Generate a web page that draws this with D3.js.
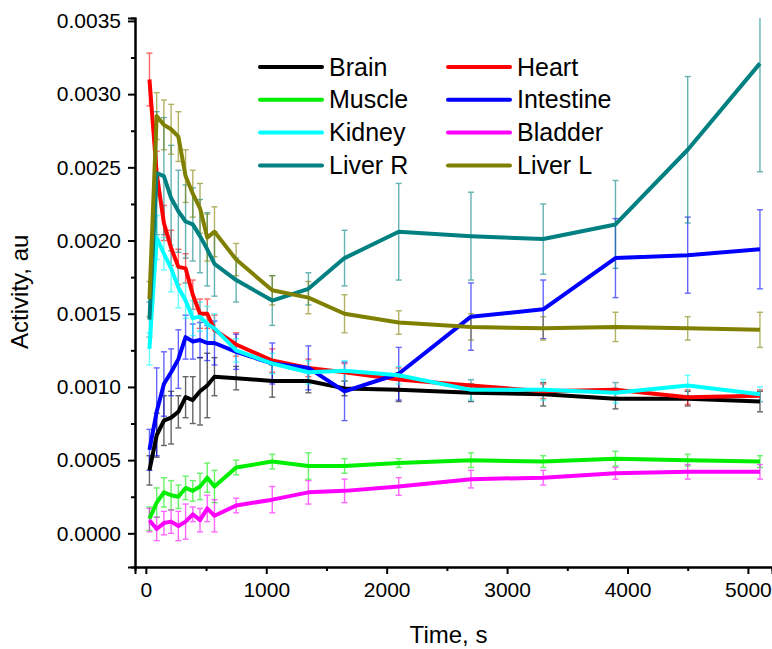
<!DOCTYPE html>
<html>
<head>
<meta charset="utf-8">
<script src="https://cdn.jsdelivr.net/npm/d3@7"></script>
<style>
  body { margin: 0; background: #fff; }
  svg { font-family: "Liberation Sans", Arial, sans-serif; }
</style>
</head>
<body>
<div id="chart"></div>
<script>
// Sampling times, s
var times = [30, 90, 150, 210, 270, 330, 390, 450, 510, 570, 750, 1050, 1350, 1650, 2100, 2700, 3300, 3900, 4500, 5100];

// Mean activity per organ
var brain     = [0.00043, 0.00067, 0.00077, 0.00079, 0.00083, 0.00093, 0.00091, 0.00097, 0.00101, 0.00107, 0.00106, 0.00104, 0.00104, 0.00099, 0.00098, 0.00096, 0.00095, 0.00092, 0.00092, 0.00090];
var heart     = [0.00310, 0.00246, 0.00212, 0.00195, 0.00182, 0.00181, 0.00163, 0.00150, 0.00150, 0.00139, 0.00129, 0.00118, 0.00113, 0.00110, 0.00105, 0.00101, 0.00097, 0.00098, 0.00093, 0.00094];
var muscle    = [0.00010, 0.00021, 0.00028, 0.00026, 0.00025, 0.00031, 0.00029, 0.00032, 0.00038, 0.00032, 0.00045, 0.00049, 0.00046, 0.00046, 0.00048, 0.00050, 0.00049, 0.00051, 0.00050, 0.00049];
var intestine = [0.00057, 0.00083, 0.00102, 0.00110, 0.00119, 0.00134, 0.00131, 0.00132, 0.00130, 0.00130, 0.00124, 0.00116, 0.00113, 0.00097, 0.00109, 0.00148, 0.00153, 0.00188, 0.00190, 0.00194];
var kidney    = [0.00126, 0.00202, 0.00191, 0.00181, 0.00168, 0.00159, 0.00147, 0.00148, 0.00143, 0.00140, 0.00125, 0.00116, 0.00110, 0.00111, 0.00108, 0.00098, 0.00098, 0.00096, 0.00101, 0.00095];
var bladder   = [0.00009, 0.00003, 0.00007, 0.00008, 0.00005, 0.00008, 0.00013, 0.00009, 0.00017, 0.00012, 0.00019, 0.00023, 0.00028, 0.00029, 0.00032, 0.00037, 0.00038, 0.00041, 0.00042, 0.00042];
var liverR    = [0.00146, 0.00246, 0.00244, 0.00229, 0.00220, 0.00213, 0.00211, 0.00203, 0.00194, 0.00184, 0.00173, 0.00159, 0.00167, 0.00188, 0.00206, 0.00203, 0.00201, 0.00211, 0.00262, 0.00321];
var liverL    = [0.00160, 0.00285, 0.00279, 0.00276, 0.00271, 0.00244, 0.00232, 0.00222, 0.00202, 0.00206, 0.00187, 0.00166, 0.00161, 0.00150, 0.00144, 0.00141, 0.00140, 0.00141, 0.00140, 0.00139];

// Error bar half-lengths
var brainErr     = [0.00010, 0.00015, 0.00017, 0.00018, 0.00011, 0.00014, 0.00016, 0.00023, 0.00022, 0.00013, 0.00008, 0.00011, 0.00008, 0.00005, 0.00008, 0.00006, 0.00008, 0.00007, 0.00005, 0.00007];
var heartErr     = [0.00018, 0.00015, 0.00012, 0.00012, 0.00012, 0.00010, 0.00010, 0.00010, 0.00010, 0.00010, 0.00008, 0.00008, 0.00006, 0.00006, 0.00008, 0.00004, 0.00005, 0.00005, 0.00005, 0.00004];
var muscleErr    = [0.00008, 0.00010, 0.00010, 0.00010, 0.00008, 0.00008, 0.00007, 0.00009, 0.00010, 0.00011, 0.00005, 0.00005, 0.00009, 0.00005, 0.00003, 0.00005, 0.00004, 0.00005, 0.00004, 0.00004];
var intestineErr = [0.00014, 0.00030, 0.00022, 0.00016, 0.00020, 0.00015, 0.00012, 0.00012, 0.00012, 0.00015, 0.00012, 0.00014, 0.00015, 0.00020, 0.00018, 0.00023, 0.00020, 0.00027, 0.00026, 0.00027];
var kidneyErr    = [0.00011, 0.00015, 0.00011, 0.00016, 0.00014, 0.00012, 0.00012, 0.00010, 0.00012, 0.00010, 0.00008, 0.00007, 0.00008, 0.00007, 0.00006, 0.00007, 0.00007, 0.00007, 0.00007, 0.00005];
var bladderErr   = [0.00008, 0.00008, 0.00008, 0.00008, 0.00010, 0.00012, 0.00005, 0.00008, 0.00009, 0.00011, 0.00005, 0.00009, 0.00008, 0.00008, 0.00006, 0.00006, 0.00005, 0.00004, 0.00005, 0.00005];
var liverRErr    = [0.00012, 0.00042, 0.00040, 0.00036, 0.00028, 0.00025, 0.00025, 0.00025, 0.00025, 0.00022, 0.00015, 0.00017, 0.00011, 0.00019, 0.00033, 0.00030, 0.00024, 0.00030, 0.00050, 0.00074];
var liverLErr    = [0.00012, 0.00016, 0.00017, 0.00017, 0.00017, 0.00018, 0.00016, 0.00017, 0.00016, 0.00017, 0.00011, 0.00010, 0.00011, 0.00013, 0.00008, 0.00009, 0.00008, 0.00010, 0.00008, 0.00012];

var names  = ["Brain", "Heart", "Muscle", "Intestine", "Kidney", "Bladder", "Liver R", "Liver L"];
var colors = ["#000000", "#ff0000", "#00ee00", "#0000ff", "#00ffff", "#ff00ff", "#008080", "#808000"];
var means  = [brain, heart, muscle, intestine, kidney, bladder, liverR, liverL];
var errs   = [brainErr, heartErr, muscleErr, intestineErr, kidneyErr, bladderErr, liverRErr, liverLErr];

var yMajor = [0, 0.0005, 0.0010, 0.0015, 0.0020, 0.0025, 0.0030, 0.0035];
var yMinor = [0.00025, 0.00075, 0.00125, 0.00175, 0.00225, 0.00275, 0.00325];
var xMajor = [0, 1000, 2000, 3000, 4000, 5000];
var xMinor = [500, 1500, 2500, 3500, 4500];

var svgWidth = 772, svgHeight = 649;
var margin = { top: 18, right: 0, bottom: 82, left: 135 };
var plotW = svgWidth - margin.left - margin.right;
var plotH = svgHeight - margin.top - margin.bottom;

var svg = d3.select("#chart").append("svg")
  .attr("width", svgWidth).attr("height", svgHeight);

var x = d3.scaleLinear().domain([-90, 5200]).range([margin.left, margin.left + plotW]);
var y = d3.scaleLinear().domain([-0.00023, 0.00352]).range([margin.top + plotH, margin.top]);

svg.append("clipPath").attr("id", "plot-clip")
  .append("rect")
  .attr("x", margin.left).attr("y", margin.top)
  .attr("width", plotW).attr("height", plotH);

var series = names.map(function (n, i) {
  return {
    name: n, color: colors[i],
    pts: times.map(function (t, j) { return { t: t, v: means[i][j], e: errs[i][j] }; })
  };
});

var plot = svg.append("g").attr("clip-path", "url(#plot-clip)");

// error bars (thin, lighter)
series.forEach(function (s) {
  var g = plot.append("g").attr("stroke", s.color).attr("stroke-width", 1.4).attr("opacity", 0.6);
  g.selectAll("line.bar").data(s.pts).enter().append("line")
    .attr("x1", d => x(d.t)).attr("x2", d => x(d.t))
    .attr("y1", d => y(d.v - d.e)).attr("y2", d => y(d.v + d.e));
  [-1, 1].forEach(function (sign) {
    g.selectAll("line.cap" + sign).data(s.pts).enter().append("line")
      .attr("x1", d => x(d.t) - 3).attr("x2", d => x(d.t) + 3)
      .attr("y1", d => y(d.v + sign * d.e)).attr("y2", d => y(d.v + sign * d.e));
  });
});

var line = d3.line().x(d => x(d.t)).y(d => y(d.v));
series.forEach(function (s) {
  plot.append("path").datum(s.pts)
    .attr("d", line)
    .attr("fill", "none")
    .attr("stroke", s.color)
    .attr("stroke-width", 4)
    .attr("stroke-linejoin", "round");
});

// axes
svg.append("g").attr("transform", `translate(${margin.left},0)`)
  .call(d3.axisLeft(y).tickValues(yMajor).tickFormat(d3.format(".4f")).tickSize(7).tickPadding(7));
svg.append("g").attr("transform", `translate(${margin.left},0)`)
  .call(d3.axisLeft(y).tickValues(yMinor).tickFormat("").tickSize(4));

svg.append("g").attr("transform", `translate(0,${margin.top + plotH})`)
  .call(d3.axisBottom(x).tickValues(xMajor).tickFormat(d3.format("d")).tickSize(7).tickPadding(8));
svg.append("g").attr("transform", `translate(0,${margin.top + plotH})`)
  .call(d3.axisBottom(x).tickValues(xMinor).tickFormat("").tickSize(4));

svg.selectAll(".domain").attr("stroke", "#000").attr("stroke-width", 2);
svg.selectAll(".tick line").attr("stroke", "#000").attr("stroke-width", 2);
svg.selectAll(".tick text").attr("font-size", 21).attr("fill", "#000")
  .attr("font-family", "Liberation Sans, Arial, sans-serif");

svg.append("text")
  .attr("x", margin.left + plotW / 2 - 5).attr("y", 643)
  .attr("text-anchor", "middle").attr("font-size", 24).text("Time, s");

svg.append("text")
  .attr("transform", `translate(28,${y(0.00165)}) rotate(-90)`)
  .attr("text-anchor", "middle").attr("font-size", 24).text("Activity, au");

// legend, two columns
var legend = svg.append("g");
series.forEach(function (s, i) {
  var col = i % 2, row = Math.floor(i / 2);
  var lx = col === 0 ? 260 : 448;
  var ly = 67 + row * 32.8;
  legend.append("line")
    .attr("x1", lx).attr("x2", lx + 62).attr("y1", ly).attr("y2", ly)
    .attr("stroke", s.color).attr("stroke-width", 4).attr("stroke-linecap", "round");
  legend.append("text")
    .attr("x", lx + 69).attr("y", ly + 8.5)
    .attr("font-size", 25).text(s.name);
});
</script>
</body>
</html>
